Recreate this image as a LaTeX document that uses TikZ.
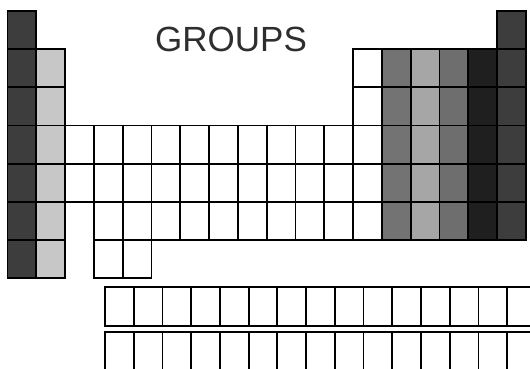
\documentclass[tikz,border=0pt]{standalone}
\usepackage{fontspec}
\setsansfont{Liberation Sans}

\begin{document}
\begin{tikzpicture}[x=1pt,y=-1pt,line width=1.8pt]
\def\w{28.8}  % cell width
\def\h{38.15} % cell height
\def\xo{7.4}
\def\yo{11}
\tikzset{cellbox/.style={draw=black,line join=miter}}
\useasboundingbox (0,0) rectangle (530,369);
% ================= main block: group/first row/last row/shade =================
\foreach \g/\a/\b/\c in {1/1/7/black!76, 2/2/7/black!22,
    3/4/5/white, 4/4/7/white, 5/4/7/white,
    6/4/6/white, 7/4/6/white, 8/4/6/white, 9/4/6/white, 10/4/6/white,
    11/4/6/white, 12/4/6/white, 13/2/6/white,
    14/2/6/black!55, 15/2/6/black!35, 16/2/6/black!57,
    17/2/6/black!88, 18/1/6/black!76}{
  \foreach \r in {\a,...,\b}{
    \pgfmathsetmacro\x{\xo+(\g-1)*\w}
    \pgfmathsetmacro\y{\yo+(\r-1)*\h}
    \draw[cellbox,fill=\c] (\x,\y) rectangle ++(\w,\h);
  }
}
% ================= lower block (runs off the page) =================
\foreach \n in {0,...,14}{
  \pgfmathsetmacro\x{105+\n*28.73}
  \draw[cellbox] (\x,287) rectangle ++(28.73,39);
  \draw[cellbox] (\x,332) rectangle ++(28.73,45);
}
% title
\node[font=\sffamily\fontsize{35}{35}\selectfont,text=black!82] (title) at (231,39.5) {GROUPS};
\end{tikzpicture}
\end{document}
